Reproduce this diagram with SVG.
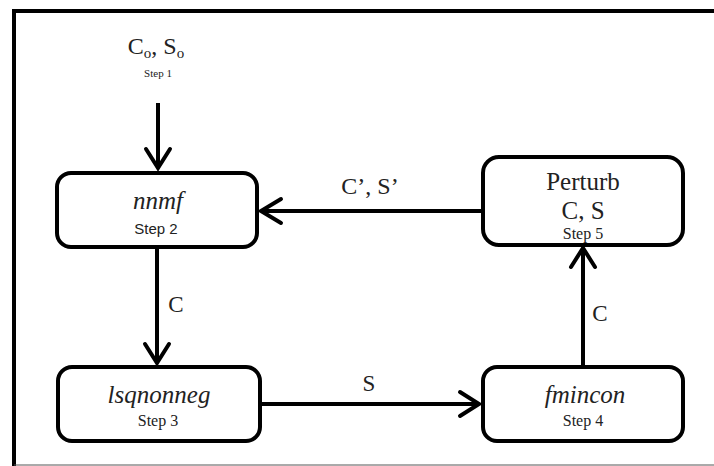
<svg xmlns="http://www.w3.org/2000/svg" width="714" height="466" viewBox="0 0 714 466">
<style>
.box{fill:#fff;stroke:#000;stroke-width:4}
.ln{fill:none;stroke:#000;stroke-width:4}
.hd{fill:none;stroke:#000;stroke-width:4;stroke-linecap:round;stroke-linejoin:miter}
.t{font-family:"Liberation Serif","Times New Roman","DejaVu Serif",serif;fill:#222;text-anchor:middle}
.it{font-style:italic;font-size:25px}
.s{font-size:16px}
.ss{font-family:"Liberation Sans",Arial,sans-serif;font-size:15px}
.lb{font-size:23px}
</style>
<rect x="0" y="0" width="714" height="466" fill="#fff"/>
<path d="M14 466 V11 H714" fill="none" stroke="#000" stroke-width="4"/>
<line x1="14" y1="465" x2="714" y2="465" stroke="#555" stroke-width="1"/>
<g id="input">
<text class="t" x="156" y="54" font-size="24">C<tspan font-size="15" dy="4">o</tspan><tspan dy="-4">, S</tspan><tspan font-size="15" dy="4">o</tspan></text>
<text class="t" x="158" y="77" font-size="11">Step 1</text>
</g>
<g id="connectors">
<line class="ln" x1="158" y1="103" x2="158" y2="168"/>
<polyline class="hd" points="146,149 158,168 170,149"/>
<line class="ln" x1="157" y1="248" x2="157" y2="363"/>
<polyline class="hd" points="145,344 157,363 169,344"/>
<text class="t lb" x="176" y="312">C</text>
<line class="ln" x1="260" y1="404" x2="479" y2="404"/>
<polyline class="hd" points="460,392 479,404 460,416"/>
<text class="t lb" x="369" y="391">S</text>
<line class="ln" x1="583" y1="367" x2="583" y2="248"/>
<polyline class="hd" points="571,267 583,248 595,267"/>
<text class="t lb" x="600" y="321">C</text>
<line class="ln" x1="483" y1="211" x2="261" y2="211"/>
<polyline class="hd" points="281,199 261,211 281,223"/>
<text class="t" x="370" y="194" font-size="24">C’, S’</text>
</g>
<g id="nnmf">
<rect class="box" x="57" y="173" width="200" height="74" rx="14"/>
<text class="t it" x="158" y="209" font-size="26">nnmf</text>
<text class="t ss" x="156" y="234">Step 2</text>
</g>
<g id="lsqnonneg">
<rect class="box" x="58" y="367" width="202" height="74" rx="14"/>
<text class="t it" x="159" y="403">lsqnonneg</text>
<text class="t s" x="158" y="426">Step 3</text>
</g>
<g id="fmincon">
<rect class="box" x="483" y="367" width="200" height="74" rx="14"/>
<text class="t it" x="585" y="403">fmincon</text>
<text class="t s" x="583" y="426">Step 4</text>
</g>
<g id="perturb">
<rect class="box" x="483" y="157" width="200" height="88" rx="16"/>
<text class="t" x="583" y="190" font-size="25">Perturb</text>
<text class="t" x="583" y="219" font-size="25">C, S</text>
<text class="t s" x="583" y="239">Step 5</text>
</g>
</svg>
